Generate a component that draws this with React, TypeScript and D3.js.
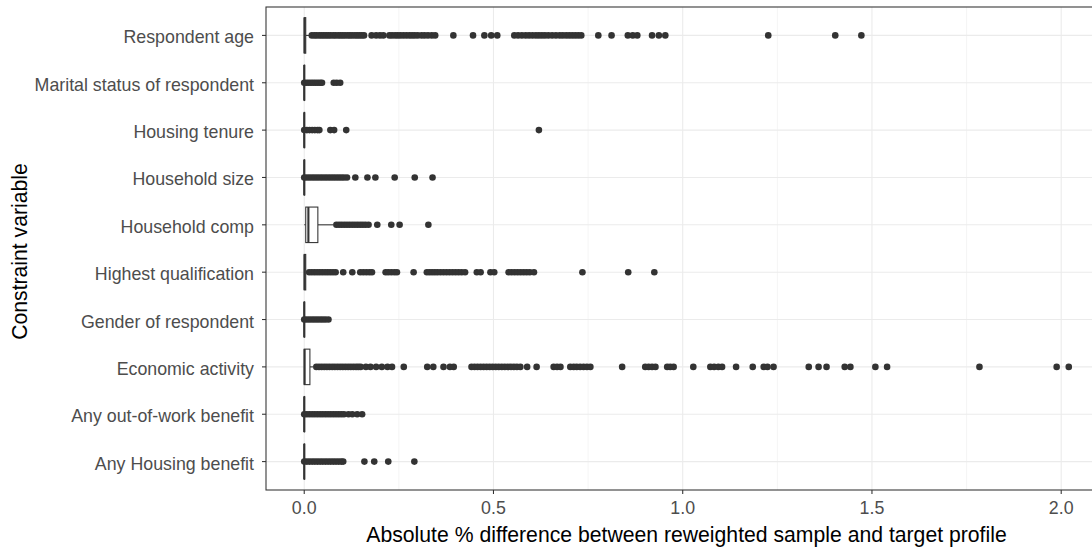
import React from "react";
import * as d3 from "d3";

const width = 1092;
const height = 550;
const panel = { top: 7, bottom: 490, left: 266, right: 1107 };

// categories, top to bottom
const categories = [
  "Respondent age",
  "Marital status of respondent",
  "Housing tenure",
  "Household size",
  "Household comp",
  "Highest qualification",
  "Gender of respondent",
  "Economic activity",
  "Any out-of-work benefit",
  "Any Housing benefit"
];

// box statistics, same order as categories
const whiskerLo = [0, 0, 0, 0, 0, 0, 0, 0, 0, 0];
const q1 = [0, 0, 0, 0, 0.004, 0, 0, 0, 0, 0];
const medians = [0.001, 0, 0, 0, 0.011, 0.001, 0, 0.001, 0, 0];
const q3 = [0.004, 0.001, 0.001, 0.001, 0.036, 0.004, 0.001, 0.015, 0.001, 0.001];
const whiskerHi = [0.016, 0.001, 0.001, 0.001, 0.077, 0.006, 0.001, 0.024, 0.001, 0.001];

// outliers per category
const ageOut = [
  0.02, 0.027, 0.033, 0.04, 0.046, 0.052, 0.058, 0.064, 0.07, 0.077, 0.083, 0.09, 0.096, 0.102,
  0.108, 0.115, 0.121, 0.127, 0.134, 0.14, 0.146, 0.152, 0.158, 0.178, 0.19, 0.2, 0.209, 0.225,
  0.232, 0.24, 0.247, 0.254, 0.262, 0.27, 0.278, 0.285, 0.292, 0.3, 0.31, 0.318, 0.327, 0.337,
  0.346, 0.394, 0.446, 0.476, 0.494, 0.51, 0.555, 0.565, 0.575, 0.585, 0.594, 0.603, 0.612, 0.62,
  0.628, 0.636, 0.645, 0.655, 0.665, 0.675, 0.683, 0.692, 0.7, 0.708, 0.716, 0.724, 0.732, 0.777,
  0.812, 0.855, 0.868, 0.88, 0.919, 0.937, 0.954, 1.226, 1.403, 1.472
];
const maritalOut = [0, 0.006, 0.012, 0.018, 0.024, 0.03, 0.036, 0.042, 0.047, 0.078, 0.086, 0.095];
const tenureOut = [0, 0.007, 0.014, 0.021, 0.028, 0.035, 0.04, 0.069, 0.079, 0.111, 0.62];
const sizeOut = [
  0, 0.007, 0.014, 0.021, 0.028, 0.035, 0.042, 0.049, 0.056, 0.063, 0.07, 0.077, 0.084, 0.091,
  0.098, 0.105, 0.113, 0.135, 0.167, 0.188, 0.239, 0.292, 0.339
];
const compOut = [
  0.085, 0.092, 0.099, 0.106, 0.113, 0.12, 0.127, 0.134, 0.141, 0.148, 0.155, 0.162, 0.17, 0.193,
  0.23, 0.252, 0.328
];
const qualOut = [
  0.013, 0.02, 0.027, 0.034, 0.041, 0.048, 0.055, 0.062, 0.069, 0.076, 0.083, 0.103, 0.127, 0.148,
  0.156, 0.164, 0.172, 0.179, 0.215, 0.222, 0.23, 0.238, 0.245, 0.289, 0.324, 0.331, 0.338, 0.345,
  0.352, 0.36, 0.368, 0.376, 0.384, 0.392, 0.4, 0.408, 0.416, 0.425, 0.456, 0.466, 0.492, 0.502,
  0.54, 0.548, 0.556, 0.564, 0.572, 0.58, 0.588, 0.596, 0.607, 0.735, 0.856, 0.925
];
const genderOut = [0, 0.007, 0.014, 0.021, 0.028, 0.035, 0.042, 0.049, 0.056, 0.064];
const econOut = [
  0.032, 0.039, 0.046, 0.053, 0.06, 0.067, 0.074, 0.081, 0.088, 0.095, 0.102, 0.109, 0.116, 0.123,
  0.13, 0.137, 0.143, 0.149, 0.163, 0.175, 0.19, 0.205, 0.22, 0.232, 0.263, 0.325, 0.341, 0.368,
  0.385, 0.395, 0.442, 0.45, 0.458, 0.466, 0.474, 0.482, 0.49, 0.498, 0.506, 0.514, 0.522, 0.53,
  0.538, 0.546, 0.554, 0.562, 0.571, 0.589, 0.614, 0.659, 0.668, 0.677, 0.703, 0.712, 0.72, 0.729,
  0.738, 0.747, 0.756, 0.84, 0.901, 0.91, 0.919, 0.928, 0.959, 0.967, 0.976, 1.028, 1.073, 1.083,
  1.094, 1.104, 1.141, 1.185, 1.214, 1.224, 1.24, 1.333, 1.359, 1.38, 1.428, 1.443, 1.509, 1.54,
  1.784, 1.988, 2.02
];
const outOfWorkOut = [
  0, 0.007, 0.014, 0.021, 0.028, 0.035, 0.042, 0.049, 0.056, 0.063, 0.07, 0.077, 0.084, 0.091,
  0.098, 0.105, 0.117, 0.127, 0.14, 0.153
];
const housingBenOut = [
  0, 0.007, 0.014, 0.021, 0.028, 0.035, 0.042, 0.049, 0.056, 0.063, 0.07, 0.077, 0.084, 0.091,
  0.098, 0.103, 0.159, 0.185, 0.222, 0.291
];
const outliers = [
  ageOut, maritalOut, tenureOut, sizeOut, compOut,
  qualOut, genderOut, econOut, outOfWorkOut, housingBenOut
];

const xTicks = [0, 0.5, 1, 1.5, 2];
const xMinor = [0.25, 0.75, 1.25, 1.75];
const xTitle = "Absolute % difference between reweighted sample and target profile";
const yTitle = "Constraint variable";

const font = "'Liberation Sans', Arial, sans-serif";
const dark = "#333333";

export default function App() {
  const all = outliers.flat().concat(whiskerLo, whiskerHi);
  const [lo, hi] = d3.extent(all) as [number, number];
  const pad = (hi - lo) * 0.05;
  const x = d3.scaleLinear().domain([lo - pad, hi + pad]).range([panel.left, panel.right]);
  const y = d3.scalePoint().domain(categories).range([panel.top, panel.bottom]).padding(0.6);
  const boxH = y.step() * 0.75;

  return (
    <svg
      width={width}
      height={height}
      style={{ position: "absolute", left: 0, top: 0, background: "#fff" }}
    >
      <rect x={0} y={0} width={width} height={height} fill="#fff" />
      <defs>
        <clipPath id="pclip">
          <rect x={panel.left} y={panel.top} width={panel.right - panel.left} height={panel.bottom - panel.top} />
        </clipPath>
      </defs>
      <g clipPath="url(#pclip)">
        {xMinor.map(t => (
          <line key={"mn" + t} x1={x(t)} x2={x(t)} y1={panel.top} y2={panel.bottom} stroke="#ebebeb" strokeWidth={0.55} />
        ))}
        {xTicks.map(t => (
          <line key={"mj" + t} x1={x(t)} x2={x(t)} y1={panel.top} y2={panel.bottom} stroke="#ebebeb" strokeWidth={1.1} />
        ))}
        {categories.map(c => (
          <line key={"hg" + c} x1={panel.left} x2={panel.right} y1={y(c)} y2={y(c)} stroke="#ebebeb" strokeWidth={1.1} />
        ))}
        {categories.map((c, i) => {
          const cy = y(c) as number;
          return (
            <g key={"box" + c}>
              <line x1={x(whiskerLo[i])} x2={x(q1[i])} y1={cy} y2={cy} stroke={dark} strokeWidth={1.07} />
              <line x1={x(q3[i])} x2={x(whiskerHi[i])} y1={cy} y2={cy} stroke={dark} strokeWidth={1.07} />
              <rect
                x={x(q1[i])}
                y={cy - boxH / 2}
                width={x(q3[i]) - x(q1[i])}
                height={boxH}
                fill="#fff"
                stroke={dark}
                strokeWidth={1.07}
              />
              <line x1={x(medians[i])} x2={x(medians[i])} y1={cy - boxH / 2} y2={cy + boxH / 2} stroke={dark} strokeWidth={2.1} />
              {outliers[i].map((v, j) => (
                <circle key={j} cx={x(v)} cy={cy} r={3.3} fill={dark} />
              ))}
            </g>
          );
        })}
      </g>
      <rect
        x={panel.left}
        y={panel.top}
        width={panel.right - panel.left}
        height={panel.bottom - panel.top}
        fill="none"
        stroke={dark}
        strokeWidth={1.07}
      />
      {categories.map(c => (
        <g key={"yt" + c}>
          <line x1={panel.left - 4} x2={panel.left} y1={y(c)} y2={y(c)} stroke={dark} strokeWidth={1.07} />
          <text
            x={panel.left - 12}
            y={y(c)}
            dy="0.45em"
            textAnchor="end"
            fontFamily={font}
            fontSize={17.8}
            fill="#4d4d4d"
          >
            {c}
          </text>
        </g>
      ))}
      {xTicks.map(t => (
        <g key={"xt" + t}>
          <line x1={x(t)} x2={x(t)} y1={panel.bottom} y2={panel.bottom + 4} stroke={dark} strokeWidth={1.07} />
          <text x={x(t)} y={panel.bottom + 24} textAnchor="middle" fontFamily={font} fontSize={17.8} fill="#4d4d4d">
            {d3.format(".1f")(t)}
          </text>
        </g>
      ))}
      <text
        x={(panel.left + panel.right) / 2}
        y={542}
        textAnchor="middle"
        fontFamily={font}
        fontSize={21.2}
        fill="#000"
      >
        {xTitle}
      </text>
      <text
        transform={`translate(27,${(panel.top + panel.bottom) / 2 + 3}) rotate(-90)`}
        textAnchor="middle"
        fontFamily={font}
        fontSize={21.2}
        fill="#000"
      >
        {yTitle}
      </text>
    </svg>
  );
}
